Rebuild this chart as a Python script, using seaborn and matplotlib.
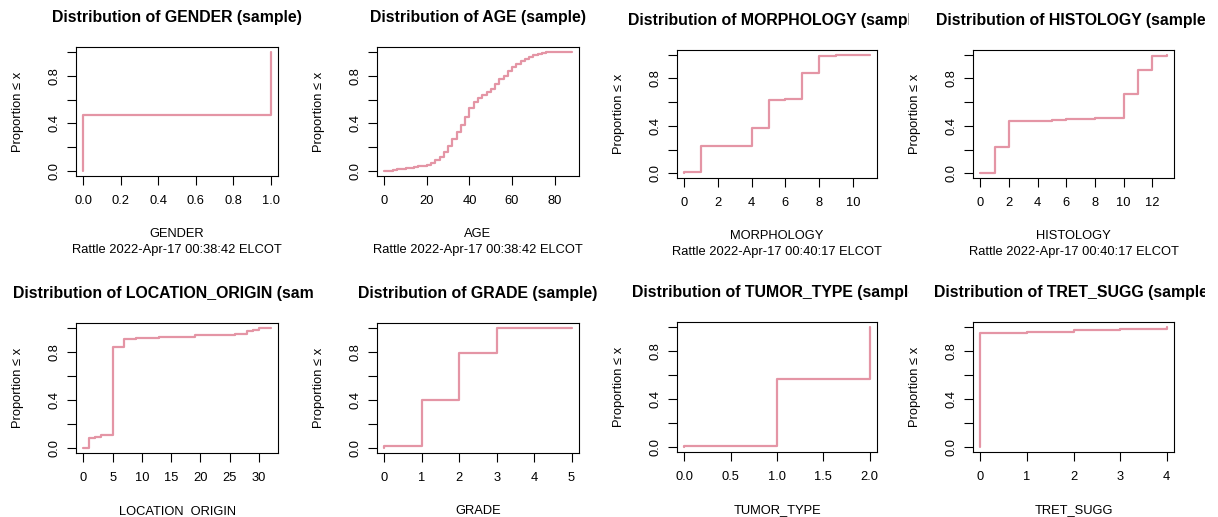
import numpy as np
import pandas as pd
import matplotlib
matplotlib.use("Agg")
import matplotlib.pyplot as plt
import seaborn as sns
from matplotlib.transforms import Bbox

# ECDF steps: x value, proportion <= x
gender_x = [0, 1]
gender_p = [0.47, 1.0]

age_x = [0, 2, 4, 6, 8, 10, 12, 14, 16, 18, 20, 22, 24, 26, 28, 30, 32, 34, 36, 38,
         40, 42, 44, 46, 48, 50, 52, 54, 56, 58, 60, 62, 64, 66, 68, 70, 72, 74, 76, 88]
age_p = [0.0, 0.005, 0.01, 0.015, 0.022, 0.027, 0.03, 0.035, 0.04, 0.045, 0.055, 0.07,
         0.09, 0.12, 0.16, 0.21, 0.27, 0.33, 0.39, 0.45, 0.53, 0.58, 0.61, 0.64, 0.66,
         0.69, 0.73, 0.77, 0.80, 0.84, 0.87, 0.90, 0.92, 0.94, 0.955, 0.97, 0.98, 0.99,
         0.995, 1.0]

morph_x = [0, 1, 4, 5, 6, 7, 8, 9, 11]
morph_p = [0.01, 0.23, 0.38, 0.62, 0.63, 0.85, 0.99, 0.995, 1.0]

hist_x = [0, 1, 2, 5, 6, 8, 10, 11, 12, 13]
hist_p = [0.003, 0.22, 0.44, 0.45, 0.46, 0.47, 0.67, 0.87, 0.99, 1.0]

loc_x = [0, 1, 2, 3, 5, 7, 9, 13, 19, 26, 28, 29, 30, 32]
loc_p = [0.003, 0.083, 0.09, 0.11, 0.84, 0.905, 0.915, 0.925, 0.94, 0.95, 0.975, 0.985, 0.995, 1.0]

grade_x = [0, 1, 2, 3, 5]
grade_p = [0.02, 0.40, 0.79, 0.998, 1.0]

tumor_x = [0, 1, 2]
tumor_p = [0.01, 0.57, 1.0]

tret_x = [0, 1, 2, 3, 4]
tret_p = [0.95, 0.96, 0.975, 0.985, 1.0]

names = ["GENDER", "AGE", "MORPHOLOGY", "HISTOLOGY",
         "LOCATION_ORIGIN", "GRADE", "TUMOR_TYPE", "TRET_SUGG"]
xs_all = [gender_x, age_x, morph_x, hist_x, loc_x, grade_x, tumor_x, tret_x]
ps_all = [gender_p, age_p, morph_p, hist_p, loc_p, grade_p, tumor_p, tret_p]
xticks_all = [
    ["0.0", "0.2", "0.4", "0.6", "0.8", "1.0"],
    ["0", "20", "40", "60", "80"],
    ["0", "2", "4", "6", "8", "10"],
    ["0", "2", "4", "6", "8", "10", "12"],
    ["0", "5", "10", "15", "20", "25", "30"],
    ["0", "1", "2", "3", "4", "5"],
    ["0.0", "0.5", "1.0", "1.5", "2.0"],
    ["0", "1", "2", "3", "4"],
]
subtitles = ["Rattle 2022-Apr-17 00:38:42 ELCOT", "Rattle 2022-Apr-17 00:38:42 ELCOT",
             "Rattle 2022-Apr-17 00:40:17 ELCOT", "Rattle 2022-Apr-17 00:40:17 ELCOT",
             None, None, None, None]

sns.set_style("ticks")
plt.rcParams["font.family"] = ["Liberation Sans", "DejaVu Sans"]
plt.rcParams["text.color"] = "black"
plt.rcParams["axes.labelcolor"] = "black"

W, H = 1218, 517
fig = plt.figure(figsize=(W / 100, H / 100), dpi=100)

# axes boxes in pixels: left, right, top, bottom
boxes = [(76, 278, 47, 176), (377, 579, 47, 176), (677, 877, 50, 178), (973, 1174, 50, 178),
         (76, 278, 323, 453), (377, 579, 323, 453), (677, 877, 322, 452), (973, 1174, 322, 452)]
clips = [(0, 313), (313, 609), (609, 909), (909, 1205)]
pink = "#E495A5"

for i, name in enumerate(names):
    l, r, t, b = boxes[i]
    ax = fig.add_axes([l / W, (H - b) / H, (r - l) / W, (b - t) / H])
    x = xs_all[i]
    p = ps_all[i]
    df = pd.DataFrame({"x": [x[0]] + list(x), "p": [0.0] + list(p)})
    sns.lineplot(data=df, x="x", y="p", estimator=None, sort=False,
                 drawstyle="steps-post", color=pink, lw=1.6, ax=ax)

    span = x[-1] - x[0]
    ax.set_xlim(x[0] - 0.04 * span, x[-1] + 0.04 * span)
    ax.set_ylim(-0.04, 1.04)
    ticks = [float(s) for s in xticks_all[i]]
    ax.set_xticks(ticks)
    ax.set_xticklabels(xticks_all[i])
    ax.set_yticks([0, 0.2, 0.4, 0.6, 0.8, 1.0])
    ax.set_yticklabels(["0.0", "", "0.4", "", "0.8", ""], rotation=90, va="center")

    for sp in ax.spines.values():
        sp.set_visible(True)
        sp.set_color("black")
        sp.set_linewidth(0.8)
    ax.tick_params(direction="out", length=6.5, width=0.8, labelsize=9.3,
                   pad=5, colors="black")
    ax.tick_params(axis="x", pad=7)

    ax.set_xlabel(name, fontsize=9.3)
    ax.xaxis.set_label_coords(0.5, -(58 / (b - t)))
    ax.xaxis.label.set_va("center")
    ax.set_ylabel("Proportion \u2264 x", fontsize=9.3)
    ax.yaxis.set_label_coords(-(58 / (r - l)), 0.5)
    ax.yaxis.label.set_va("center")

    if subtitles[i]:
        ax.text(0.5, -(74 / (b - t)), subtitles[i], transform=ax.transAxes,
                ha="center", va="center", fontsize=9.3)

    title = ax.set_title(f"Distribution of {name} (sample)", fontsize=11.4,
                         fontweight="bold", pad=18)
    c0, c1 = clips[i % 4]
    title.set_clip_box(Bbox.from_extents(c0, 0, c1, H))
    title.set_clip_on(True)

fig.savefig("out.png", dpi=100)
